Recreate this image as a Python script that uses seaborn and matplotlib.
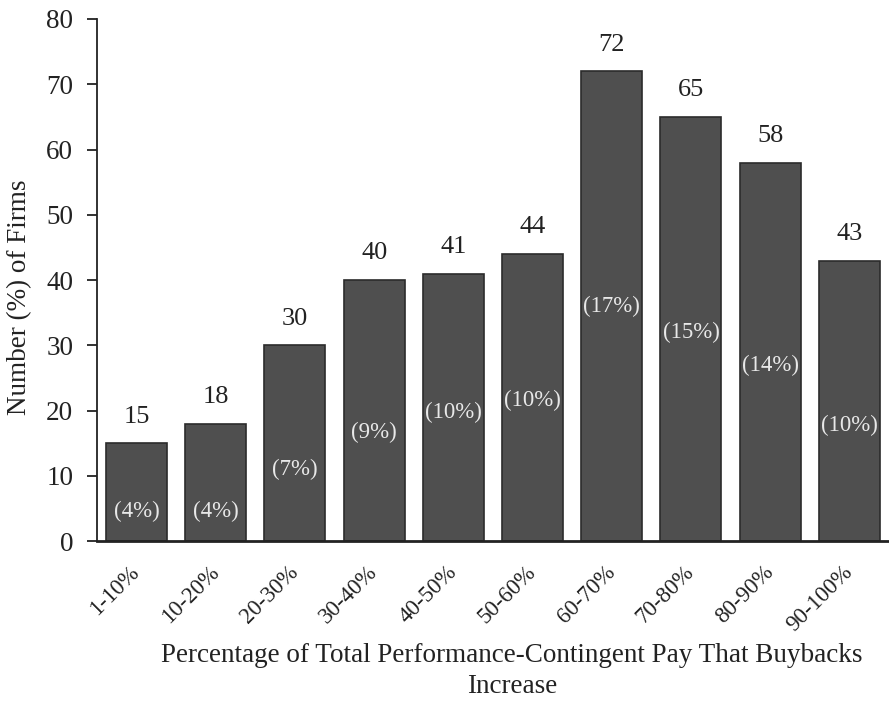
import numpy as np
import pandas as pd
import seaborn as sns
import matplotlib.pyplot as plt

categories = ["1-10%", "10-20%", "20-30%", "30-40%", "40-50%",
              "50-60%", "60-70%", "70-80%", "80-90%", "90-100%"]
firms = [15, 18, 30, 40, 41, 44, 72, 65, 58, 43]
pct_labels = ["(4%)", "(4%)", "(7%)", "(9%)", "(10%)",
              "(10%)", "(17%)", "(15%)", "(14%)", "(10%)"]
# height (in data units) where each percentage label sits inside its bar
pct_label_y = [4.5, 4.5, 11, 16.7, 19.8, 21.5, 36, 32, 27, 17.8]

df = pd.DataFrame({"bucket": categories, "firms": firms})

sns.set_style("white")
plt.rcParams["font.family"] = ["Liberation Serif", "DejaVu Serif"]

fig = plt.figure(figsize=(8.89, 7.02), dpi=100)
ax = fig.add_axes([0.109, 0.229, 0.891, 0.744])

sns.barplot(data=df, x="bucket", y="firms", color="#4f4f4f", saturation=1,
            width=0.77, edgecolor="#2b2b2b", linewidth=1.2, ax=ax)

for i, (v, lab, ly) in enumerate(zip(firms, pct_labels, pct_label_y)):
    ax.text(i, v + 2.4, str(v), ha="center", va="bottom", fontsize=19, color="#222222")
    ax.text(i, ly, lab, ha="center", va="center", fontsize=16.5, color="#e8e8e8")

ax.set_ylim(0, 80)
ax.set_xlim(-0.5, 9.5)
ax.set_yticks(range(0, 81, 10))
ax.tick_params(axis="y", labelsize=19.5, length=7, width=1.3, color="#222222",
               left=True, pad=10, labelcolor="#222222")
ax.tick_params(axis="x", length=0, labelsize=16.5, pad=20, labelcolor="#222222")
for t in ax.get_xticklabels():
    t.set_rotation(45)
    t.set_ha("right")
    t.set_va("center")
    t.set_rotation_mode("anchor")

sns.despine(ax=ax, top=True, right=True)
ax.spines["left"].set_color("#222222")
ax.spines["left"].set_linewidth(1.3)
ax.spines["bottom"].set_color("#222222")
ax.spines["bottom"].set_linewidth(2)

ax.set_xlabel("Percentage of Total Performance-Contingent Pay That Buybacks\nIncrease",
              fontsize=19.5, color="#222222", linespacing=1.3, va="center")
ax.xaxis.set_label_coords(0.524, -0.249)
ax.set_ylabel("Number (%) of Firms", fontsize=19.5, color="#222222", va="center")
ax.yaxis.set_label_coords(-0.097, 0.467)

fig.savefig("out.png", dpi=100)
